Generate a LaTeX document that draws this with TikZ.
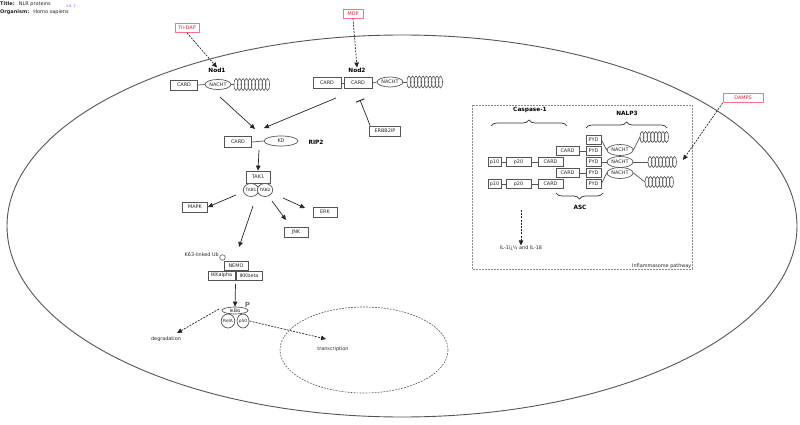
\documentclass[tikz,border=0pt]{standalone}
\usepackage{fontspec}
\setmainfont{DejaVu Sans}
\usetikzlibrary{arrows.meta,decorations.pathreplacing,shapes.geometric}
\definecolor{boxc}{RGB}{85,85,85}
\definecolor{pinkc}{RGB}{255,110,140}
\definecolor{redc}{RGB}{230,30,60}
\definecolor{refc}{RGB}{60,60,200}
\begin{document}
\begin{tikzpicture}[x=1pt,y=-1pt,
  every node/.style={font=\fontsize{4.9}{6}\selectfont, inner sep=0pt, text=black!85},
  bx/.style={draw=boxc, line width=0.7pt, minimum height=9pt, fill=white},
  oval/.style={draw=boxc, ellipse, line width=0.7pt, fill=white},
  lbl/.style={font=\fontsize{5.8}{7}\selectfont\bfseries, text=black},
  arr/.style={-{Triangle[length=5pt,width=4.5pt]}, line width=0.7pt, draw=black!85},
  darr/.style={arr, dash pattern=on 2pt off 1.2pt},
  link/.style={draw=boxc, line width=0.7pt},
  coilc/.style={draw=boxc, line width=0.6pt},
  pinkbox/.style={draw=pinkc, line width=0.8pt, text=redc, minimum height=9pt, fill=white},
  brc/.style={draw=black!80, line width=0.7pt, decorate}
]
\useasboundingbox (0,0) rectangle (800,425);

% title
\node[anchor=west, font=\fontsize{5}{6}\selectfont] (title) at (0,4.5) {\textbf{Title:}\hspace{4pt}NLR proteins};
\node[anchor=west, font=\fontsize{3.3}{4}\selectfont, text=refc] (ref) at (66,6) {1-5, 7};
\node[anchor=west, font=\fontsize{5}{6}\selectfont] (org) at (0,12.5) {\textbf{Organism:}\hspace{4pt}Homo sapiens};

% cell and nucleus
\draw[draw=boxc, line width=0.9pt] (402,226) ellipse (395 and 191);
\draw[draw=boxc, line width=0.6pt, dash pattern=on 1.8pt off 1.2pt] (364,350) ellipse (84 and 43);

% ligands
\node[pinkbox, minimum width=24pt] (tridap) at (187,28) {Tri-DAP};
\node[pinkbox, minimum width=20pt] (mdp) at (353,13.5) {MDP};
\node[pinkbox, minimum width=40pt] (damps) at (743,98) {DAMPS};

% Nod1
\node[lbl] (nod1) at (217,70) {Nod1};
\node[bx, minimum width=27pt, minimum height=10pt] (n1card) at (184,85) {CARD};
\node[oval, minimum width=26pt, minimum height=10pt] (n1nacht) at (218,84.5) {NACHT};
\coordinate (n1coil) at (234,84.5);
\draw[link] (n1card.east) -- (n1nacht.west);
\draw[link] (n1nacht.east) -- (n1coil);
\foreach \i in {0,...,9} \draw[coilc] ([xshift=\i*3.5+2]n1coil) ellipse (2 and 6);
\draw[darr] (tridap.south) -- (nod1.north);

% Nod2
\node[lbl] (nod2) at (357,70) {Nod2};
\node[bx, minimum width=28pt, minimum height=11pt] (n2card1) at (327,83) {CARD};
\node[bx, minimum width=28pt, minimum height=11pt] (n2card2) at (358,83) {CARD};
\node[oval, minimum width=26pt, minimum height=10pt] (n2nacht) at (390,82) {NACHT};
\coordinate (n2coil) at (407,82);
\draw[link] (n2card1.east) -- (n2card2.west);
\draw[link] (n2card2.east) -- (n2nacht.west);
\draw[link] (n2nacht.east) -- (n2coil);
\foreach \i in {0,...,9} \draw[coilc] ([xshift=\i*3.5+2]n2coil) ellipse (2 and 6);
\draw[darr] (mdp.south) -- (nod2.north);

% ERBB2IP
\node[bx, minimum width=31pt, minimum height=10pt] (erbb) at (385,131) {ERBB2IP};
\coordinate (inh) at (360,100);
\draw[line width=0.7pt, draw=black!85, -{Bar[width=9pt,line width=1pt]}] ([xshift=1pt]erbb.north west) -- (inh);

% RIP2
\coordinate (a1s) at (220,97);
\coordinate (a1e) at (255,129);
\coordinate (a2s) at (336,98);
\coordinate (a2e) at (264,128);
\draw[arr] (a1s) -- (a1e);
\draw[arr] (a2s) -- (a2e);
\node[bx, minimum width=27pt, minimum height=11pt] (r2card) at (238,142) {CARD};
\node[oval, minimum width=34pt, minimum height=10pt] (r2kd) at (281,141) {KD};
\draw[link] (r2card.east) -- (r2kd.west);
\node[lbl] (rip2) at (316,142) {RIP2};

% TAK1
\coordinate (r2s) at (259,150);
\node[bx, minimum width=24pt, minimum height=12pt] (tak1) at (258,177) {TAK1};
\draw[arr] (r2s) -- (tak1.north);
\node[oval, minimum width=13pt, minimum height=13pt, font=\fontsize{4.3}{5}\selectfont] (tab1) at (251,190) {TAB1};
\node[oval, minimum width=13pt, minimum height=13pt, font=\fontsize{4.3}{5}\selectfont] (tab2) at (265,190) {TAB2};

\node[bx, minimum width=25pt, minimum height=10pt] (mapk) at (195,207) {MAPK};
\node[bx, minimum width=24pt, minimum height=10pt] (erk) at (325,212) {ERK};
\node[bx, minimum width=24pt, minimum height=10pt] (jnk) at (296,232) {JNK};
\coordinate (m1) at (236,195);
\coordinate (e1) at (283,198);
\coordinate (e2) at (305,208);
\coordinate (j1) at (272,201);
\coordinate (j2) at (286,220);
\coordinate (k1) at (253,206);
\coordinate (k2) at (239,247);
\draw[arr] (m1) -- (mapk.east);
\draw[arr] (e1) -- (e2);
\draw[arr] (j1) -- (j2);
\draw[arr] (k1) -- (k2);

% NEMO complex
\node[anchor=east] (k63) at (219,255) {K63-linked Ub};
\node[circle, draw=boxc, line width=0.6pt, minimum size=5.5pt] (ub) at (222.5,257.5) {};
\node[bx, minimum width=24pt, minimum height=9pt] (nemo) at (236,266) {NEMO};
\node[bx, minimum width=27pt, minimum height=9pt] (ikka) at (221.5,275.5) {IKKalpha};
\node[bx, minimum width=26pt, minimum height=9pt] (ikkb) at (249,275.5) {IKKbeta};

% IkBa
\coordinate (ik1) at (235.5,284);
\node[oval, minimum width=26pt, minimum height=7pt] (ikba) at (235,310.5) {IκBα};
\draw[arr] (ik1) -- (ikba.north);
\node[font=\fontsize{7}{8}\selectfont\bfseries, text=black!55] (phos) at (247.5,304.5) {P};
\node[oval, minimum width=12pt, minimum height=14pt, font=\fontsize{4.3}{5}\selectfont] (rela) at (228,321) {RelA};
\node[oval, minimum width=12pt, minimum height=14pt, font=\fontsize{4.3}{5}\selectfont] (p50) at (243,321) {p50};

\node (degr) at (166,339) {degradation};
\node (trans) at (333,349) {transcription};
\coordinate (dg1) at (219,309);
\coordinate (dg2) at (177,333);
\coordinate (tr2) at (326,339);
\draw[darr] (dg1) -- (dg2);
\draw[darr] (p50.east) -- (tr2);

% Inflammasome
\draw[draw=black!45, line width=0.6pt, dash pattern=on 1.8pt off 1.2pt] (472,105) rectangle (692,269);
\node[anchor=south east] (infl) at (691.5,268.5) {Inflammasome pathway};

\node[lbl] (casp) at (530,110) {Caspase-1};
\draw[brc, decoration={brace, amplitude=6pt}] (491,126) -- (567,126);
\node[lbl] (nalp) at (627,113) {NALP3};
\draw[brc, decoration={brace, amplitude=6pt}] (586,128) -- (667,128);
\node[lbl] (asc) at (580,207.5) {ASC};
\draw[brc, decoration={brace, amplitude=6pt}] (603,193) -- (556,193);

\foreach \r/\y in {1/140,2/151,3/162,4/173,5/184}
  \node[bx, minimum width=15pt, minimum height=8.5pt] (pyd\r) at (593.5,\y) {PYD};

\node[bx, minimum width=23pt, minimum height=8.5pt] (acard1) at (567.5,151) {CARD};
\node[bx, minimum width=23pt, minimum height=8.5pt] (acard2) at (567.5,173) {CARD};
\draw[link] (acard1.east) -- (pyd2.west);
\draw[link] (acard2.east) -- (pyd4.west);

\foreach \r/\y in {1/162,2/184} {
  \node[bx, minimum width=13pt, minimum height=8.5pt] (p10\r) at (494.5,\y) {p10};
  \node[bx, minimum width=25pt, minimum height=8.5pt] (p20\r) at (518.5,\y) {p20};
  \node[bx, minimum width=25pt, minimum height=8.5pt] (ccard\r) at (550.5,\y) {CARD};
  \draw[link] (p10\r.east) -- (p20\r.west);
  \draw[link] (p20\r.east) -- (ccard\r.west);
}

\node[oval, minimum width=26pt, minimum height=11pt] (nacht1) at (620,150) {NACHT};
\node[oval, minimum width=26pt, minimum height=11pt] (nacht2) at (620,162) {NACHT};
\node[oval, minimum width=26pt, minimum height=11pt] (nacht3) at (620,173) {NACHT};
\draw[link] (pyd1.east) -- (nacht1.west);
\draw[link] (pyd3.east) -- (nacht2.west);
\draw[link] (pyd5.east) -- (nacht3.west);

\coordinate (c1) at (640,137);
\coordinate (c2) at (648,162);
\coordinate (c3) at (645,182);
\draw[link] (nacht1.east) -- (c1);
\draw[link] (nacht2.east) -- (c2);
\draw[link] (nacht3.east) -- (c3);
\foreach \c in {c1,c2,c3}
  \foreach \i in {0,...,7} \draw[coilc] ([xshift=\i*3.5+2]\c) ellipse (2 and 5.5);

\coordinate (dme) at (683,160);
\draw[darr] (damps.south west) -- (dme);

\coordinate (ils) at (521,210);
\node (il) at (521,248) {IL-1ï¿½ and IL-18};
\draw[darr] (ils) -- (il.north);
\end{tikzpicture}
\end{document}
